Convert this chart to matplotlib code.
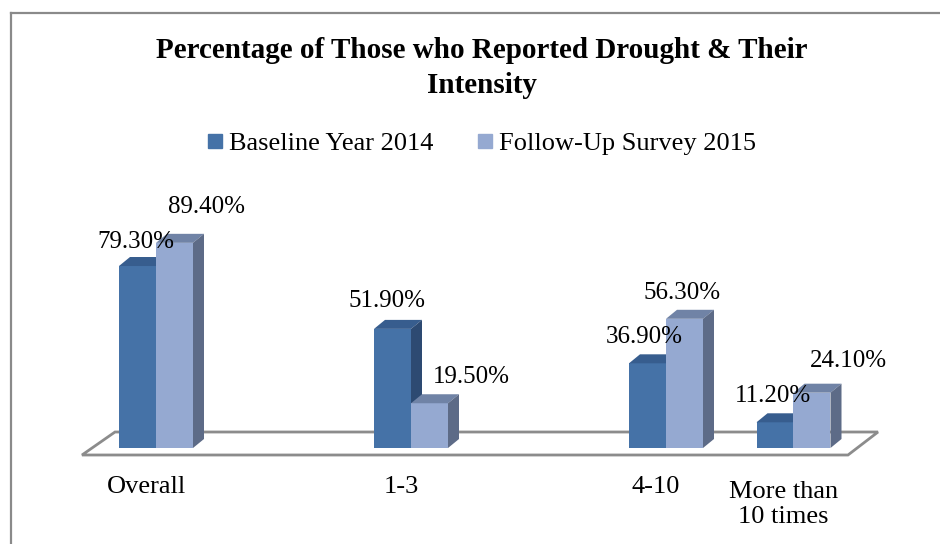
import matplotlib
matplotlib.use('Agg')
import matplotlib.pyplot as plt
from matplotlib.patches import Polygon
from matplotlib.lines import Line2D

# ---------------- data ----------------
categories = ["Overall", "1-3", "4-10", "More than\n10 times"]
series_names = ["Baseline Year 2014", "Follow-Up Survey 2015"]
baseline_2014 = [79.3, 51.9, 36.9, 11.2]
followup_2015 = [89.4, 19.5, 56.3, 24.1]
title = "Percentage of Those who Reported Drought & Their\nIntensity"

# ---------------- layout ----------------
cat_pos = [0, 1, 2, 2.5]            # category centres (uneven as in the original)
W, H = 940, 544
PX_X, PX_Y = 255.0, 2.295           # pixels per category unit / per percent
X0, Y0 = 156, 448                   # pixel position of (0, 0)
BAR_W = 37 / PX_X
DDX, DDY = 11 / PX_X, 9 / PX_Y      # 3-D depth offset
# label offsets (pixels) relative to the top-centre of each bar front face
off_2014 = [(-2, 18), (-5, 22), (-3, 20), (-2, 20)]
off_2015 = [(32, 30), (42, 20), (-2, 20), (36, 26)]

SERIF = 'Liberation Serif'
dark = dict(front='#4572A7', top='#375D8E', side='#2D4A72')
light = dict(front='#95A9D1', top='#7083A6', side='#5D6B87')

fig = plt.figure(figsize=(W / 100, H / 100), dpi=100)
ax = fig.add_axes([0, 0, 1, 1])
ax.set_xlim(-X0 / PX_X, (W - X0) / PX_X)
ax.set_ylim(-(H - Y0) / PX_Y, Y0 / PX_Y)
ax.axis('off')


def pix(x, y):
    return ((x - X0) / PX_X, (Y0 - y) / PX_Y)


# outer frame
fig.add_artist(Line2D([11 / W, 11 / W], [0, 1 - 13 / H], color='#8a8a8a', lw=1.6,
                      transform=fig.transFigure))
fig.add_artist(Line2D([11 / W, 1], [1 - 13 / H, 1 - 13 / H], color='#8a8a8a', lw=1.6,
                      transform=fig.transFigure))

# floor
ax.add_patch(Polygon([pix(82, 455), pix(115, 432), pix(878, 432), pix(848, 455)],
                     closed=True, fc='white', ec='#8c8c8c', lw=2, zorder=1))


def bar3d(xl, h, col, z):
    ax.bar(xl, h, width=BAR_W, align='edge', color=col['front'], zorder=z, lw=0)
    ax.add_patch(Polygon([(xl, h), (xl + DDX, h + DDY), (xl + BAR_W + DDX, h + DDY),
                          (xl + BAR_W, h)], closed=True, fc=col['top'], ec='none', zorder=z))
    ax.add_patch(Polygon([(xl + BAR_W, 0), (xl + BAR_W, h), (xl + BAR_W + DDX, h + DDY),
                          (xl + BAR_W + DDX, DDY)], closed=True, fc=col['side'], ec='none', zorder=z))


for i, p in enumerate(cat_pos):
    bar3d(p - BAR_W, baseline_2014[i], dark, 2 + i * 2)
    bar3d(p, followup_2015[i], light, 3 + i * 2)
    ax.annotate(f"{baseline_2014[i]:.2f}%", xy=(p - BAR_W / 2, baseline_2014[i]),
                xytext=off_2014[i], textcoords='offset pixels', ha='center', va='baseline',
                fontsize=18, family=SERIF, zorder=20)
    ax.annotate(f"{followup_2015[i]:.2f}%", xy=(p + BAR_W / 2, followup_2015[i]),
                xytext=off_2015[i], textcoords='offset pixels', ha='center', va='baseline',
                fontsize=18, family=SERIF, zorder=20)
    n_extra = categories[i].count('\n')
    ax.annotate(categories[i], xy=(p, 0), xytext=(-10, -45 - 30 * n_extra),
                textcoords='offset pixels', ha='center', va='baseline', fontsize=19,
                family=SERIF, linespacing=1.2)

# title (va='baseline' anchors the last line)
fig.text(482 / W, 1 - 93 / H, title, ha='center', va='baseline', fontsize=21,
         fontweight='bold', family=SERIF, linespacing=1.4)

# legend
handles = [Line2D([], [], ls='', marker='s', markersize=10, color=dark['front']),
           Line2D([], [], ls='', marker='s', markersize=10, color=light['front'])]
ax.legend(handles, series_names, loc='center', bbox_to_anchor=(482 / W, 1 - 143 / H),
          bbox_transform=fig.transFigure, ncol=2, frameon=False,
          prop={'family': SERIF, 'size': 19}, handlelength=0.55, handletextpad=0.25,
          columnspacing=1.7, borderaxespad=0, borderpad=0)

fig.savefig('out.png', dpi=100)
